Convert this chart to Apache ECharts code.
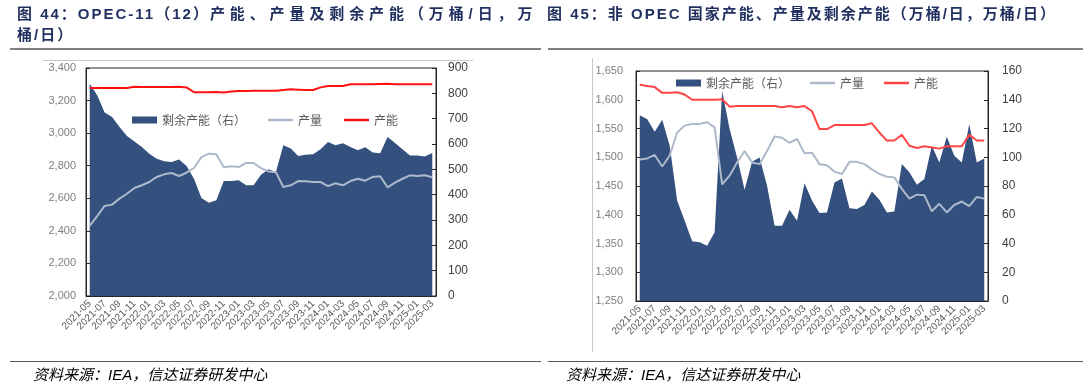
<!DOCTYPE html>
<html><head><meta charset="utf-8">
<script src="https://cdn.jsdelivr.net/npm/echarts@6/dist/echarts.min.js"></script>
<style>
body{margin:0;width:1088px;height:387px;background:#fff;overflow:hidden;position:relative;font-family:"Liberation Sans","Noto Sans CJK SC",sans-serif;}
.t{position:absolute;font-weight:bold;color:#1f2f5f;font-size:15px;letter-spacing:2px;white-space:nowrap;line-height:20px;font-family:"Liberation Sans","Noto Sans CJK SC",sans-serif;}
.s{position:absolute;font-style:italic;color:#000;font-size:15px;white-space:nowrap;line-height:20px;font-family:"Liberation Sans","Noto Sans CJK SC",sans-serif;}
.ln{position:absolute;}
.ch{position:absolute;top:0;width:544px;height:387px;}
</style></head>
<body>
<div class="ln" style="left:43px;top:60px;width:430px;height:1px;background:#c8c8c8"></div>
<div class="ln" style="left:592px;top:58px;width:1px;height:294px;background:#c8c8c8"></div>
<div id="c1" class="ch" style="left:0"></div>
<div id="c2" class="ch" style="left:544px"></div>
<div class="t" style="left:17px;top:4px">图 44：OPEC-11（12）<span style="letter-spacing:4.9px">产能、产量及剩余产能（万桶/日，万</span></div>
<div class="t" style="left:17px;top:25px">桶/日）</div>
<div class="t" style="left:547px;top:4px">图 45：非 OPEC 国家产能、产量及剩余产能（万桶/日，万桶/日）</div>
<div class="ln" style="left:10px;top:48px;width:531px;height:2px;background:#808080"></div>
<div class="ln" style="left:548px;top:48px;width:535px;height:2px;background:#808080"></div>
<div class="ln" style="left:10px;top:361px;width:531px;height:1px;background:#595959"></div>
<div class="ln" style="left:548px;top:361px;width:535px;height:1px;background:#595959"></div>
<div class="s" style="left:33px;top:365px">资料来源：IEA，信达证券研发中心</div>
<div class="s" style="left:566px;top:365px">资料来源：IEA，信达证券研发中心</div>
<script>
const categories = ["2021-05","2021-06","2021-07","2021-08","2021-09","2021-10","2021-11","2021-12",
"2022-01","2022-02","2022-03","2022-04","2022-05","2022-06","2022-07","2022-08","2022-09","2022-10","2022-11","2022-12",
"2023-01","2023-02","2023-03","2023-04","2023-05","2023-06","2023-07","2023-08","2023-09","2023-10","2023-11","2023-12",
"2024-01","2024-02","2024-03","2024-04","2024-05","2024-06","2024-07","2024-08","2024-09","2024-10","2024-11","2024-12",
"2025-01","2025-02","2025-03"];

// Figure 44: OPEC-11(12)
const opecSpare = [838,792,724,707,667,632,610,588,562,542,532,529,539,513,463,387,368,378,454,454,457,437,437,479,500,489,595,582,553,558,560,579,608,595,603,588,575,587,566,563,628,604,579,555,555,551,564];
const opecProd = [2430,2491,2553,2561,2598,2628,2663,2680,2700,2731,2747,2755,2737,2757,2786,2853,2874,2870,2790,2796,2792,2817,2817,2785,2765,2760,2669,2680,2706,2704,2700,2700,2675,2692,2680,2706,2720,2708,2731,2735,2667,2696,2720,2741,2737,2741,2729];
const opecCap = [3277,3277,3277,3277,3277,3277,3285,3283,3283,3283,3283,3283,3285,3281,3251,3251,3251,3253,3249,3255,3259,3259,3261,3261,3261,3261,3265,3269,3267,3265,3265,3281,3289,3289,3290,3300,3300,3300,3300,3302,3304,3300,3300,3300,3300,3300,3300];

// Figure 45: non-OPEC
const nonSpare = [129.3,126.5,117.8,126.1,108,69.8,55.9,41.5,40.8,38.5,47.8,146.3,119.6,99.9,77.4,96.9,99.9,80.2,52.4,52.4,63.5,55.9,82,70,61.2,61.6,82.5,85.3,64.5,64,66.8,76.1,70.5,61.6,62.3,95.3,89.5,80.9,84.8,108,96.4,114.2,101,96.4,123,96.4,99.2];
const nonProd = [1496,1498,1504,1484,1503,1543,1555,1558,1558,1561,1552,1453,1468,1491,1511,1491,1488,1511,1536,1534,1525,1532,1507,1508,1488,1486,1475,1471,1492,1492,1488,1479,1471,1466,1465,1445,1428,1435,1434,1406,1419,1404,1417,1423,1415,1431,1428];
const nonCap = [1626,1624,1622,1612,1612,1613,1609,1600,1600,1600,1600,1601,1588,1589,1589,1589,1589,1589,1589,1587,1589,1587,1589,1580,1549,1549,1556,1556,1556,1556,1556,1559,1543,1529,1529,1539,1520,1516,1519,1517,1515,1519,1519,1519,1539,1529,1529];

const seriesNames = ["剩余产能（右）","产量","产能"];

const NAVY = "#33507f", GREY = "#adb9ca";
const fmt = v => String(v).replace(/\B(?=(\d{3})+(?!\d))/g, ",");
const AX = "#262626";
const LINE_ICON = "path://M0,0L100,0L100,10L0,10Z";

function build(cfg){
  return {
    animation:false,
    grid:{left:cfg.left,top:cfg.top,width:cfg.width,height:cfg.height,show:true,borderColor:AX,borderWidth:1,containLabel:false},
    legend:{left:132,top:cfg.legendTop,padding:0,itemWidth:25,itemHeight:7,itemGap:cfg.gap,
      textStyle:{fontSize:12,color:"#595959",fontFamily:"Noto Sans CJK SC"},
      data:[{name:seriesNames[0],icon:"rect",itemStyle:{color:NAVY}},
            {name:seriesNames[1],icon:LINE_ICON,itemStyle:{color:GREY}},
            {name:seriesNames[2],icon:LINE_ICON,itemStyle:{color:cfg.red}}]},
    xAxis:{type:"category",data:categories,boundaryGap:true,
      axisLine:{lineStyle:{color:AX,width:1}},
      axisTick:{show:true,inside:true,length:4,interval:1,lineStyle:{color:AX}},
      axisLabel:{interval:1,rotate:45,fontSize:10,color:"#595959",margin:6,fontFamily:"Liberation Sans"},
      splitLine:{show:false}},
    yAxis:[
      {type:"value",position:"left",min:cfg.lmin,max:cfg.lmax,interval:cfg.lint,
        axisLine:{show:true,lineStyle:{color:AX}},axisTick:{show:true,inside:true,length:4,lineStyle:{color:AX}},
        axisLabel:{formatter:v=>fmt(v),fontSize:11,color:"#7f7f7f",margin:cfg.lmargin,fontFamily:"Liberation Sans"},
        splitLine:{show:false}},
      {type:"value",position:"right",min:0,max:cfg.rmax,interval:cfg.rint,
        axisLine:{show:true,lineStyle:{color:AX}},axisTick:{show:true,inside:true,length:4,lineStyle:{color:AX}},
        axisLabel:{fontSize:12,color:"#404040",margin:cfg.rmargin,fontFamily:"Liberation Sans"},
        splitLine:{show:false}}
    ],
    series:[
      {type:"line",name:seriesNames[0],yAxisIndex:1,data:cfg.spare,symbol:"none",
        lineStyle:{width:0,color:NAVY},itemStyle:{color:NAVY},areaStyle:{color:NAVY,opacity:1}},
      {type:"line",name:seriesNames[1],yAxisIndex:0,data:cfg.prod,symbol:"none",
        lineStyle:{width:2,color:GREY},itemStyle:{color:GREY}},
      {type:"line",name:seriesNames[2],yAxisIndex:0,data:cfg.cap,symbol:"none",
        lineStyle:{width:2,color:cfg.red},itemStyle:{color:cfg.red}}
    ]
  };
}

const c1 = echarts.init(document.getElementById("c1"),null,{renderer:"canvas"});
c1.setOption(build({left:86,top:68,width:350,height:228,legendTop:114,gap:22,
  lmin:2000,lmax:3400,lint:200,rmax:900,rint:100,lmargin:10,rmargin:12,
  spare:opecSpare,prod:opecProd,cap:opecCap,red:"#ff1010"}));

const c2 = echarts.init(document.getElementById("c2"),null,{renderer:"canvas"});
c2.setOption(build({left:92,top:71,width:352,height:230,legendTop:77,gap:20,
  lmin:1250,lmax:1650,lint:50,rmax:160,rint:20,lmargin:13,rmargin:14,
  spare:nonSpare,prod:nonProd,cap:nonCap,red:"#ff4545"}));
</script>
</body></html>
